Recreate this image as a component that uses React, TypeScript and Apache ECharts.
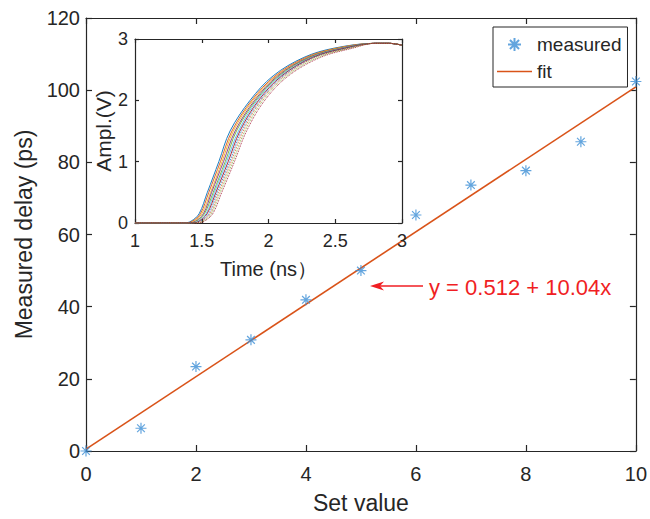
import React, { useEffect, useRef } from "react";
import * as echarts from "echarts";

// ---- main plot data ----
const setValues = [0, 1, 2, 3, 4, 5, 6, 7, 8, 9, 10];
const measuredDelay = [0, 6.3, 23.4, 30.8, 41.9, 50.0, 65.4, 73.7, 77.7, 85.7, 102.4];
const fitX = [0, 10];
const fitY = [0.512, 100.912];
const xTicks = [0, 10, 2];
const yTicks = [0, 120, 20];

// ---- inset data: waveform times (ns) at the amplitude levels below ----
const levelVolts = [0, 0.03, 0.15, 0.5, 1.0, 1.5, 2.0, 2.4, 2.7, 2.85];
const startPoint = [1.0, 0];
const tailTimes = [2.8, 2.9, 3.0];
const tailVolts = [2.93, 2.93, 2.9];
const curveTimes = [
  [1.37, 1.42, 1.48, 1.542, 1.628, 1.712, 1.862, 2.035, 2.265, 2.49],
  [1.38, 1.43, 1.49, 1.553, 1.64, 1.726, 1.874, 2.05, 2.28, 2.51],
  [1.395, 1.44, 1.5, 1.566, 1.652, 1.737, 1.884, 2.06, 2.29, 2.52],
  [1.40, 1.452, 1.512, 1.574, 1.663, 1.75, 1.896, 2.07, 2.30, 2.54],
  [1.415, 1.46, 1.52, 1.586, 1.676, 1.76, 1.905, 2.08, 2.31, 2.55],
  [1.42, 1.472, 1.532, 1.595, 1.686, 1.775, 1.914, 2.09, 2.322, 2.56],
  [1.435, 1.48, 1.54, 1.606, 1.698, 1.786, 1.926, 2.10, 2.33, 2.57],
  [1.44, 1.49, 1.552, 1.616, 1.71, 1.798, 1.937, 2.112, 2.342, 2.585],
  [1.452, 1.50, 1.562, 1.627, 1.721, 1.81, 1.946, 2.122, 2.35, 2.60],
  [1.46, 1.512, 1.571, 1.638, 1.733, 1.823, 1.958, 2.136, 2.37, 2.61],
  [1.475, 1.52, 1.582, 1.65, 1.745, 1.836, 1.972, 2.15, 2.39, 2.63],
];
const curveColors = [
  "#0072BD", "#D95319", "#EDB120", "#7E2F8E", "#77AC30", "#4DBEEE",
  "#A2142F", "#0072BD", "#D95319", "#77AC30", "#A2142F",
];
const curveDotted = [false, false, false, false, false, false, false, true, true, true, true];

const FONT = "Liberation Sans, Arial, sans-serif";
const INK = "#262626";
const RED = "#f01e23";
const BLUE = "#3c8fd6";
const ORANGE = "#D95319";
const STAR = "path://M0,-10L0,10M-10,0L10,0M-7,-7L7,7M-7,7L7,-7";
const LINE_ICON = "path://M0,0H35V1.6H0Z";

export default function App() {
  const ref = useRef<HTMLDivElement>(null);
  useEffect(() => {
    document.body.style.margin = "0";
    const chart = echarts.init(ref.current!, null, { renderer: "svg" });

    const axisLine = { show: true, onZero: false, lineStyle: { color: INK, width: 1.2 } };
    const tickIn = (len: number) => ({ show: true, inside: true, length: len, lineStyle: { color: INK, width: 1.2 } });

    const insetSeries = curveTimes.map((times, i) => ({
      type: "line",
      xAxisIndex: 2,
      yAxisIndex: 2,
      showSymbol: false,
      symbol: "none",
      smooth: 0.35,
      silent: true,
      z: 20,
      lineStyle: { color: curveColors[i], width: 0.9, type: curveDotted[i] ? "dotted" : "solid" },
      data: [
        startPoint,
        ...times.map((t, k) => [t, levelVolts[k]]),
        ...tailTimes.map((t, k) => [t, tailVolts[k]]),
      ],
    }));

    chart.setOption({
      animation: false,
      backgroundColor: "#fff",
      textStyle: { fontFamily: FONT },
      legend: {
        orient: "vertical",
        left: 493,
        top: 27,
        padding: [8, 6, 6, 4],
        itemGap: 8,
        itemWidth: 35,
        itemHeight: 13,
        borderColor: INK,
        borderWidth: 1,
        backgroundColor: "#fff",
        textStyle: { fontSize: 19, fontFamily: FONT, color: INK, lineHeight: 19 },
        data: [
          { name: "measured", icon: STAR },
          { name: "fit", icon: LINE_ICON, itemStyle: { color: ORANGE, borderWidth: 0 } },
        ],
      },
      grid: [
        { left: 86, top: 18, width: 550, height: 433 },
        { left: 135, top: 39, width: 267, height: 184, show: true, backgroundColor: "#fff", borderWidth: 0, z: 5 },
      ],
      xAxis: [
        {
          type: "value", gridIndex: 0, min: xTicks[0], max: xTicks[1], interval: xTicks[2],
          axisLine, axisTick: tickIn(6), splitLine: { show: false },
          axisLabel: { fontSize: 20, color: INK, fontFamily: FONT, margin: 13 },
          name: "Set value", nameLocation: "middle", nameGap: 40,
          nameTextStyle: { fontSize: 23, color: INK, fontFamily: FONT },
        },
        {
          type: "value", gridIndex: 0, position: "top", min: xTicks[0], max: xTicks[1], interval: xTicks[2],
          axisLine, axisTick: tickIn(6), splitLine: { show: false }, axisLabel: { show: false },
        },
        {
          type: "value", gridIndex: 1, min: 1, max: 3, interval: 0.5,
          axisLine, axisTick: tickIn(4), splitLine: { show: false },
          axisLabel: { fontSize: 18, color: INK, fontFamily: FONT, margin: 9 },
          name: "Time (ns）", nameLocation: "middle", nameGap: 36,
          nameTextStyle: { fontSize: 20, color: INK, fontFamily: FONT },
          z: 10,
        },
        {
          type: "value", gridIndex: 1, position: "top", min: 1, max: 3, interval: 0.5,
          axisLine, axisTick: tickIn(4), splitLine: { show: false }, axisLabel: { show: false }, z: 10,
        },
      ],
      yAxis: [
        {
          type: "value", gridIndex: 0, min: yTicks[0], max: yTicks[1], interval: yTicks[2],
          axisLine, axisTick: tickIn(6), splitLine: { show: false },
          axisLabel: { fontSize: 20, color: INK, fontFamily: FONT, margin: 6 },
          name: "Measured delay (ps)", nameLocation: "middle", nameGap: 47, nameRotate: 90,
          nameTextStyle: { fontSize: 23, color: INK, fontFamily: FONT },
        },
        {
          type: "value", gridIndex: 0, position: "right", min: yTicks[0], max: yTicks[1], interval: yTicks[2],
          axisLine, axisTick: tickIn(6), splitLine: { show: false }, axisLabel: { show: false },
        },
        {
          type: "value", gridIndex: 1, min: 0, max: 3, interval: 1,
          axisLine, axisTick: tickIn(4), splitLine: { show: false },
          axisLabel: { fontSize: 18, color: INK, fontFamily: FONT, margin: 7 },
          name: "Ampl.(V)", nameLocation: "middle", nameGap: 20, nameRotate: 90,
          nameTextStyle: { fontSize: 21, color: INK, fontFamily: FONT },
          z: 10,
        },
        {
          type: "value", gridIndex: 1, position: "right", min: 0, max: 3, interval: 1,
          axisLine, axisTick: tickIn(4), splitLine: { show: false }, axisLabel: { show: false }, z: 10,
        },
      ],
      series: [
        {
          name: "measured",
          type: "scatter",
          xAxisIndex: 0,
          yAxisIndex: 0,
          symbol: STAR,
          symbolSize: 11,
          itemStyle: { color: "rgba(0,0,0,0)", borderColor: BLUE, borderWidth: 1.2 },
          data: setValues.map((x, i) => [x, measuredDelay[i]]),
          z: 3,
        },
        {
          name: "fit",
          type: "line",
          xAxisIndex: 0,
          yAxisIndex: 0,
          symbol: "none",
          lineStyle: { color: ORANGE, width: 1.6 },
          itemStyle: { color: ORANGE },
          data: fitX.map((x, i) => [x, fitY[i]]),
          z: 2,
        },
        ...insetSeries,
      ],
      graphic: [
        {
          type: "line",
          shape: { x1: 378, y1: 286, x2: 423, y2: 286 },
          style: { stroke: RED, lineWidth: 1.3 },
        },
        {
          type: "polygon",
          shape: { points: [[370, 286], [384, 281.5], [380, 286], [384, 290.5]] },
          style: { fill: RED },
        },
        {
          type: "text",
          x: 429,
          y: 287,
          style: { text: "y = 0.512 + 10.04x", fontSize: 22, fontFamily: FONT, fill: RED, verticalAlign: "middle" },
        },
      ],
    });
    return () => chart.dispose();
  }, []);
  return <div ref={ref} style={{ width: 650, height: 519 }} />;
}
